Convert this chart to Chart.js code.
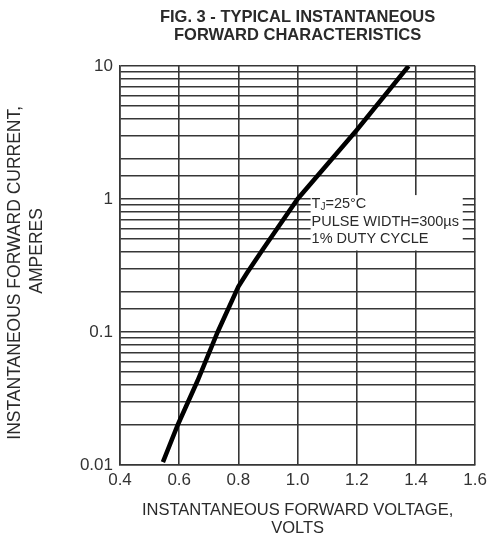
<!DOCTYPE html>
<html>
<head>
<meta charset="utf-8">
<script src="https://cdn.jsdelivr.net/npm/chart.js@4/dist/chart.umd.min.js"></script>
<style>
  html, body { margin: 0; padding: 0; background: #fff; }
  #wrap { width: 492px; height: 540px; }
</style>
</head>
<body>
<div id="wrap"><canvas id="chart" width="492" height="540"></canvas></div>
<script>
// Data
const forwardVolts = [0.545, 0.595, 0.662, 0.73, 0.80, 0.83, 0.88, 1.00, 1.20, 1.375];
const forwardAmps  = [0.0105, 0.02, 0.043, 0.10, 0.22, 0.28, 0.41, 1.00, 3.3, 10];
const xTickLabels  = ['0.4', '0.6', '0.8', '1.0', '1.2', '1.4', '1.6'];
const yTickLabels  = ['0.01', '0.1', '1', '10'];
const noteLines    = ['T|J|=25°C', 'PULSE WIDTH=300µs', '1% DUTY CYCLE'];

const GRID = '#363636';
const TEXT = '#2a2a2a';
Chart.defaults.font.family = "'Liberation Sans', Arial, sans-serif";

const points = forwardVolts.map((v, i) => ({ x: v, y: forwardAmps[i] }));

// white label box with the test conditions
const notePlugin = {
  id: 'note',
  beforeDatasetsDraw(chart) {
    const { ctx, scales: { x, y } } = chart;
    const left = x.getPixelForValue(1.044);
    const right = x.getPixelForValue(1.558);
    const top = y.getPixelForValue(1.07);
    const bottom = y.getPixelForValue(0.41);
    ctx.save();
    ctx.fillStyle = '#fff';
    ctx.fillRect(left, top, right - left, bottom - top);
    ctx.fillStyle = TEXT;
    ctx.textBaseline = 'middle';
    ctx.textAlign = 'left';
    const font = "14.5px 'Liberation Sans', Arial, sans-serif";
    const small = "10px 'Liberation Sans', Arial, sans-serif";
    noteLines.forEach((line, i) => {
      const ly = top + 9 + i * 17.5;
      let lx = left + 1;
      line.split('|').forEach((p, j) => {
        ctx.font = j === 1 ? small : font;
        ctx.fillText(p, lx, j === 1 ? ly + 3 : ly);
        lx += ctx.measureText(p).width;
      });
    });
    ctx.restore();
  }
};

new Chart(document.getElementById('chart'), {
  type: 'line',
  data: {
    datasets: [{
      data: points,
      borderColor: '#000',
      borderWidth: 4.5,
      pointRadius: 0,
      tension: 0,
      fill: false
    }]
  },
  options: {
    responsive: false,
    animation: false,
    layout: { padding: { left: 0, right: 14, top: 0, bottom: 0 } },
    plugins: {
      legend: { display: false },
      tooltip: { enabled: false },
      title: {
        display: true,
        fullSize: false,
        text: ['FIG. 3 - TYPICAL INSTANTANEOUS', 'FORWARD CHARACTERISTICS'],
        color: TEXT,
        font: { size: 16.5, weight: 'bold', lineHeight: '18px' },
        padding: { top: 8, bottom: 22 }
      }
    },
    scales: {
      x: {
        type: 'linear',
        min: 0.4,
        max: 1.6,
        ticks: {
          stepSize: 0.2,
          color: '#333',
          font: { size: 17 },
          padding: 5,
          maxRotation: 0,
          callback: (v, i) => xTickLabels[i]
        },
        grid: { color: GRID, lineWidth: 1.6, drawTicks: false },
        border: { color: GRID, width: 1.6 },
        title: {
          display: true,
          text: ['INSTANTANEOUS FORWARD VOLTAGE,', 'VOLTS'],
          color: TEXT,
          font: { size: 16.5, lineHeight: '18px' },
          padding: { top: 0, bottom: 3 }
        },
        afterFit(scale) { scale.height = 75; }
      },
      y: {
        type: 'logarithmic',
        min: 0.01,
        max: 10,
        ticks: {
          autoSkip: false,
          color: '#333',
          font: { size: 17 },
          padding: 7,
          callback(v) {
            const e = Math.log10(v);
            if (Math.abs(e - Math.round(e)) > 1e-6) return '';
            return yTickLabels[Math.round(e) + 2];
          }
        },
        grid: { color: GRID, lineWidth: 1.6, drawTicks: false },
        border: { color: GRID, width: 1.6 },
        title: {
          display: true,
          text: ['INSTANTANEOUS FORWARD CURRENT,   ', '      AMPERES'],
          color: TEXT,
          font: { size: 17.5, lineHeight: '22px' },
          padding: { top: 4.5, bottom: 0 }
        },
        afterFit(scale) { scale.width = 120; }
      }
    }
  },
  plugins: [notePlugin]
});
</script>
</body>
</html>
